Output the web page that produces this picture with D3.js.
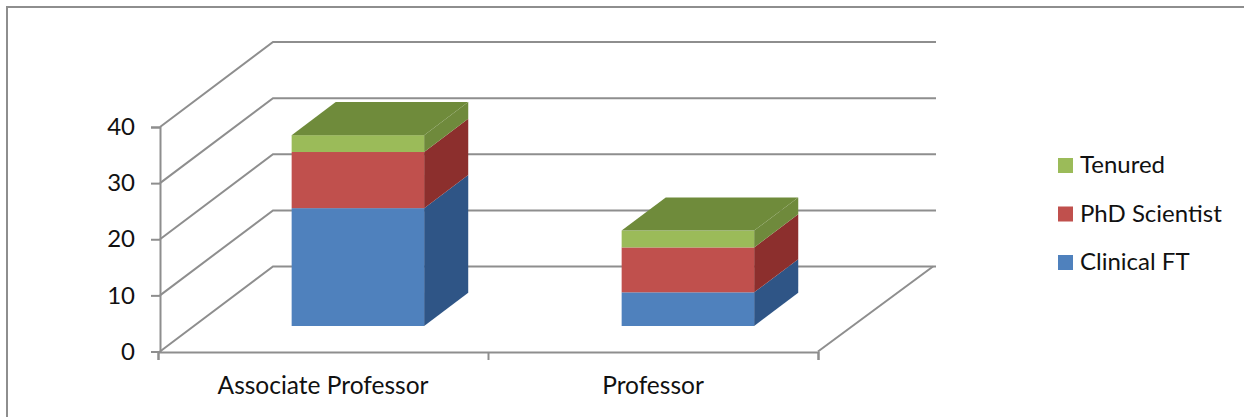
<!DOCTYPE html>
<html>
<head>
<meta charset="utf-8">
<style>
  html, body { margin: 0; padding: 0; background: #fff; }
  svg { display: block; }
  text { font-family: Lato, "Open Sans", sans-serif; fill: #111; }
</style>
<script src="https://cdn.jsdelivr.net/npm/d3@7/dist/d3.min.js"></script>
</head>
<body>
<svg id="chart" width="1244" height="417"></svg>
<script>
// Chart values, stacked bottom to top
const categories = ["Associate Professor", "Professor"];
const seriesNames = ["Clinical FT", "PhD Scientist", "Tenured"];
const clinicalFT = [21, 6];
const phdScientist = [10, 8];
const tenured = [3, 3];
const yTicks = [0, 10, 20, 30, 40];

const seriesValues = [clinicalFT, phdScientist, tenured];
const frontColors = ["#4f81bd", "#c0504d", "#9bbb59"];
const sideColors = ["#2f5586", "#8c2f2d", "#6f8a3c"];
const topColor = "#6f8b3b";
const lineColor = "#8e8e8e";

const svg = d3.select("#chart");

// Oblique projection: depth 0 is the front plane, depth 1 the back wall
const depthDx = 113, depthDy = -85;
const y = d3.scaleLinear().domain([0, 40]).range([351.5, 127]);
const x = d3.scaleBand().domain(categories).range([158, 818]);
const px = (xv, d) => xv + depthDx * d;
const py = (v, d) => y(v) + depthDy * d;

// Frame around the chart area
svg.append("path")
  .attr("d", "M7,417V7H1244")
  .attr("fill", "none").attr("stroke", lineColor).attr("stroke-width", 2);

// Gridlines on the side wall and the back wall
const wallRight = 936;
const grid = svg.append("g").attr("fill", "none").attr("stroke", lineColor).attr("stroke-width", 2);
yTicks.forEach(t => {
  grid.append("path").attr("d", d3.line()([
    [px(160, 0), py(t, 0)],
    [px(160, 1), py(t, 1)],
    [wallRight, py(t, 1)]
  ]));
});
// Floor edge on the right
grid.append("path").attr("d", d3.line()([
  [px(818, 0), py(0, 0)],
  [wallRight - 3, py(0, 1)]
]));

// Stacked 3D columns
const barWidth = 132.5;
const frontDepth = 0.30, backDepth = 0.69;
const poly = pts => d3.line()(pts) + "Z";

categories.forEach((cat, i) => {
  const x0 = px(x(cat) + x.bandwidth() / 2 - barWidth / 2, frontDepth) + 1;
  const x1 = x0 + barWidth;
  const shift = depthDx * (backDepth - frontDepth);
  const lift = depthDy * (backDepth - frontDepth);
  const g = svg.append("g");
  let base = 0;
  seriesValues.forEach((vals, s) => {
    const top = base + vals[i];
    const yb = py(base, frontDepth), yt = py(top, frontDepth);
    g.append("path").attr("fill", sideColors[s]).attr("d", poly([
      [x1, yb], [x1 + shift, yb + lift], [x1 + shift, yt + lift], [x1, yt]
    ]));
    g.append("rect").attr("x", x0).attr("y", yt)
      .attr("width", barWidth).attr("height", yb - yt).attr("fill", frontColors[s]);
    base = top;
  });
  const yt = py(base, frontDepth);
  g.append("path").attr("fill", topColor).attr("d", poly([
    [x0, yt], [x0 + shift, yt + lift], [x1 + shift, yt + lift], [x1, yt]
  ]));
});

// Value axis
const axisLeft = d3.axisLeft(y).tickValues(yTicks).tickSize(9).tickPadding(16);
const gy = svg.append("g").attr("transform", "translate(160,0)").call(axisLeft);
gy.selectAll("text").attr("font-size", 24).style("font-family", "Lato").attr("fill", "#111");

// Category axis: boundary ticks plus centred labels
const edges = d3.scaleLinear().domain([0, categories.length]).range([158, 818]);
const gxTicks = svg.append("g").attr("transform", "translate(0,352)")
  .call(d3.axisBottom(edges).tickValues(d3.range(categories.length + 1)).tickSize(8).tickFormat(""));
const gxLabels = svg.append("g").attr("transform", "translate(0,352)")
  .call(d3.axisBottom(x).tickSize(0).tickPadding(25));
gxLabels.select(".domain").remove();
gxLabels.selectAll("text").attr("font-size", 24.5).style("font-family", "Lato").attr("fill", "#111");

[gy, gxTicks].forEach(a => {
  a.selectAll(".domain, line").attr("stroke", lineColor).attr("stroke-width", 2);
});

// Legend, top entry is the top of the stack
const legendY = d3.scalePoint().domain(seriesNames.slice().reverse()).range([165.5, 262.5]);
const legend = svg.append("g");
seriesNames.forEach((name, s) => {
  legend.append("rect").attr("x", 1058).attr("y", legendY(name) - 7.5)
    .attr("width", 15).attr("height", 15).attr("fill", frontColors[s]);
  legend.append("text").attr("x", 1080).attr("y", legendY(name) - 0.5).attr("dy", "0.35em")
    .attr("font-size", 24).text(name);
});
</script>
</body>
</html>
